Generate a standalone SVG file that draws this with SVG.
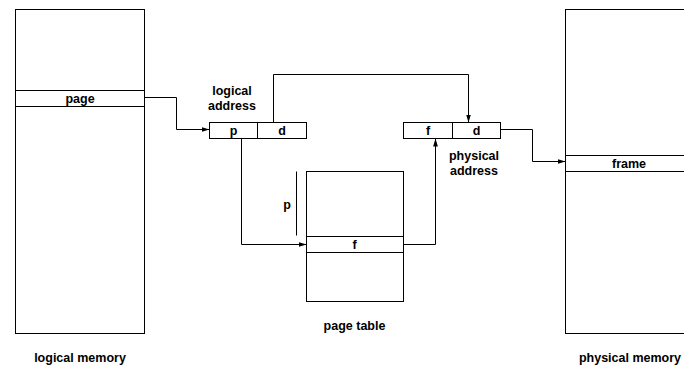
<svg xmlns="http://www.w3.org/2000/svg" width="684" height="369" viewBox="0 0 684 369">
<style>
.b{fill:#fff;stroke:#000;stroke-width:1}
.t{font-family:"Liberation Sans",Arial,sans-serif;font-weight:bold;font-size:12.5px;fill:#000;text-anchor:middle}
.c{fill:none;stroke:#000;stroke-width:1}
</style>
<defs>
<marker id="ah" viewBox="0 0 10 6" refX="10" refY="3" markerWidth="8" markerHeight="5" markerUnits="userSpaceOnUse" orient="auto">
<path d="M0,0 L10,3 L0,6 Z" fill="#000"/>
</marker>
</defs>
<rect width="684" height="369" fill="#fff"/>
<g id="logical-memory">
<rect class="b" x="15.5" y="9.5" width="129" height="324"/>
<rect class="b" x="15.5" y="90.5" width="129" height="16"/>
<text class="t" x="80" y="103">page</text>
<text class="t" x="80" y="362">logical memory</text>
</g>
<g id="physical-memory">
<rect class="b" x="565.5" y="9.5" width="130" height="324"/>
<rect class="b" x="565.5" y="155.5" width="130" height="16"/>
<text class="t" x="629" y="168">frame</text>
<text class="t" x="630" y="362">physical memory</text>
</g>
<g id="logical-address">
<rect class="b" x="209.5" y="122.5" width="97" height="16"/>
<line class="c" x1="257.5" y1="122.5" x2="257.5" y2="138.5"/>
<text class="t" x="233.5" y="135">p</text>
<text class="t" x="282" y="135">d</text>
<text class="t" x="232" y="95">logical</text>
<text class="t" x="232" y="110">address</text>
</g>
<g id="physical-address">
<rect class="b" x="403.5" y="122.5" width="97" height="16"/>
<line class="c" x1="452.5" y1="122.5" x2="452.5" y2="138.5"/>
<text class="t" x="428" y="135">f</text>
<text class="t" x="476.5" y="135">d</text>
<text class="t" x="474" y="160">physical</text>
<text class="t" x="474" y="175">address</text>
</g>
<g id="page-table">
<rect class="b" x="306.5" y="171.5" width="97" height="130"/>
<rect class="b" x="306.5" y="236.5" width="97" height="16"/>
<text class="t" x="354.5" y="249">f</text>
<line class="c" x1="296.5" y1="171.5" x2="296.5" y2="235.5"/>
<text class="t" x="287" y="209">p</text>
<text class="t" x="354.5" y="330">page table</text>
</g>
<g id="connectors">
<polyline class="c" points="144.5,97.5 176.5,97.5 176.5,129.5 209.5,129.5" marker-end="url(#ah)"/>
<polyline class="c" points="273.5,122.5 273.5,74.5 468.5,74.5 468.5,122.5" marker-end="url(#ah)"/>
<polyline class="c" points="241.5,138.5 241.5,244.5 306.5,244.5" marker-end="url(#ah)"/>
<polyline class="c" points="403.5,244.5 435.5,244.5 435.5,138.5" marker-end="url(#ah)"/>
<polyline class="c" points="500.5,129.5 532.5,129.5 532.5,161.5 565.5,161.5" marker-end="url(#ah)"/>
</g>
</svg>
